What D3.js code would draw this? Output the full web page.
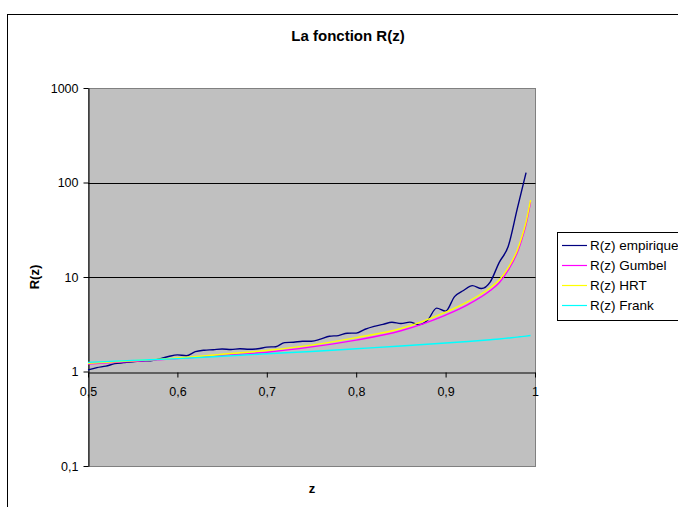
<!DOCTYPE html>
<html>
<head>
<meta charset="utf-8">
<script src="https://cdn.jsdelivr.net/npm/d3@7"></script>
<style>
body { margin: 0; background: #fff; }
text { font-family: Arial, "Liberation Sans", sans-serif; }
</style>
</head>
<body>
<div id="chart"></div>
<script>
var width = 678;
var height = 507;

var zEmp = [0.50,0.51,0.52,0.53,0.54,0.55,0.56,0.57,0.58,0.59,
            0.60,0.61,0.62,0.63,0.64,0.65,0.66,0.67,0.68,0.69,
            0.70,0.71,0.72,0.73,0.74,0.75,0.76,0.77,0.78,0.79,
            0.80,0.81,0.82,0.83,0.84,0.85,0.86,0.87,0.88,0.89,
            0.90,0.91,0.92,0.93,0.94,0.95,0.96,0.97,0.98,0.99];
var rEmp = [1.04,1.10,1.14,1.21,1.24,1.27,1.29,1.30,1.36,1.44,
            1.50,1.47,1.62,1.68,1.70,1.73,1.71,1.74,1.72,1.74,
            1.81,1.83,2.02,2.04,2.09,2.09,2.20,2.36,2.40,2.54,
            2.55,2.80,3.00,3.15,3.32,3.22,3.33,3.12,3.50,4.68,
            4.35,6.20,7.20,8.10,7.55,8.90,14.3,21.0,52.0,127];

// model curves
var zModel  = [0.50,0.55,0.60,0.65,0.70,0.75,0.80,0.85,0.90,0.925,0.95,0.96,0.97,0.98,0.985,0.99,0.995];
var rGumbel = [1.20,1.28,1.37,1.48,1.60,1.82,2.15,2.70,3.95,5.10,7.20,8.70,11.8,18.0,24.5,36.0,62.0];
var rHRT    = [1.22,1.30,1.39,1.52,1.67,1.90,2.28,2.85,4.25,5.50,7.70,9.30,12.5,19.0,26.0,38.0,65.0];
var rFrank  = [1.25,1.31,1.37,1.45,1.54,1.63,1.74,1.86,2.00,2.08,2.17,2.21,2.26,2.31,2.34,2.37,2.40];

var seriesNames = ["R(z) empirique", "R(z) Gumbel", "R(z) HRT", "R(z) Frank"];
var seriesColors = ["#000080", "#ff00ff", "#ffff00", "#00ffff"];

var xTicks = [0.5, 0.6, 0.7, 0.8, 0.9, 1];
var yTicks = [0.1, 1, 10, 100, 1000];

var plot = {left: 88, right: 535, top: 88, bottom: 466};

var svg = d3.select("#chart").append("svg")
    .attr("width", width)
    .attr("height", height);

// chart frame
svg.append("rect")
    .attr("x", 7.5).attr("y", 14.5)
    .attr("width", 720).attr("height", 540)
    .attr("fill", "#fff").attr("stroke", "#000");

svg.append("text")
    .attr("x", 348).attr("y", 41)
    .attr("text-anchor", "middle")
    .attr("font-size", 15).attr("font-weight", "bold")
    .text("La fonction R(z)");

var x = d3.scaleLinear().domain([0.5, 1]).range([plot.left, plot.right]);
var y = d3.scaleLog().domain([0.1, 1000]).range([plot.bottom, plot.top]);

var comma = (d) => String(d).replace(".", ",");

/***** plot area *****/
svg.append("rect")
    .attr("x", plot.left + 0.5).attr("y", plot.top + 0.5)
    .attr("width", plot.right - plot.left).attr("height", plot.bottom - plot.top)
    .attr("fill", "#c0c0c0").attr("stroke", "#808080");

// grid lines
svg.append("g").selectAll("line")
    .data([10, 100])
    .join("line")
    .attr("x1", plot.left).attr("x2", plot.right + 0.5)
    .attr("y1", (d) => Math.round(y(d)) + 0.5)
    .attr("y2", (d) => Math.round(y(d)) + 0.5)
    .attr("stroke", "#000");

/***** axes *****/
var yAxis = d3.axisLeft(y).tickValues(yTicks).tickFormat(comma)
    .tickSize(5).tickSizeOuter(0).tickPadding(5);
var yAxisGroup = svg.append("g").attr("transform", "translate(" + (plot.left + 0.5) + ",0)");
yAxis(yAxisGroup);

var xAxis = d3.axisBottom(x).tickValues(xTicks).tickFormat(comma)
    .tickSize(5).tickSizeOuter(0).tickPadding(10);
var xAxisGroup = svg.append("g").attr("transform", "translate(0," + (Math.round(y(1)) + 0.5) + ")");
xAxis(xAxisGroup);

svg.selectAll(".tick text").attr("font-size", 12.5).attr("font-family", "Arial, 'Liberation Sans', sans-serif").attr("fill", "#000");
svg.selectAll(".domain, .tick line").attr("stroke", "#000");

svg.append("text")
    .attr("transform", "translate(39,277) rotate(-90)")
    .attr("text-anchor", "middle")
    .attr("font-size", 13).attr("font-weight", "bold")
    .text("R(z)");

svg.append("text")
    .attr("x", 312).attr("y", 493)
    .attr("text-anchor", "middle")
    .attr("font-size", 13).attr("font-weight", "bold")
    .text("z");

/***** lines *****/
var series = [
  zEmp.map((z, i) => [z, rEmp[i]]),
  zModel.map((z, i) => [z, rGumbel[i]]),
  zModel.map((z, i) => [z, rHRT[i]]),
  zModel.map((z, i) => [z, rFrank[i]])
];

var line = d3.line()
    .x((d) => x(d[0]))
    .y((d) => y(d[1]))
    .curve(d3.curveMonotoneX);

svg.append("g").selectAll("path")
    .data(series)
    .join("path")
    .attr("d", line)
    .attr("fill", "none")
    .attr("stroke", (d, i) => seriesColors[i])
    .attr("stroke-width", 1.4);

/***** legend *****/
svg.append("rect")
    .attr("x", 557.5).attr("y", 232.5)
    .attr("width", 150).attr("height", 88)
    .attr("fill", "#fff").attr("stroke", "#000");

var legend = svg.append("g").selectAll("g")
    .data(seriesNames)
    .join("g")
    .attr("transform", (d, i) => "translate(0," + (245 + i * 20) + ")");

legend.append("line")
    .attr("x1", 562).attr("x2", 587)
    .attr("y1", 0.5).attr("y2", 0.5)
    .attr("stroke", (d, i) => seriesColors[i])
    .attr("stroke-width", 1.2);

legend.append("text")
    .attr("x", 590).attr("dy", "0.35em")
    .attr("font-size", 13.5)
    .text((d) => d);
</script>
</body>
</html>
